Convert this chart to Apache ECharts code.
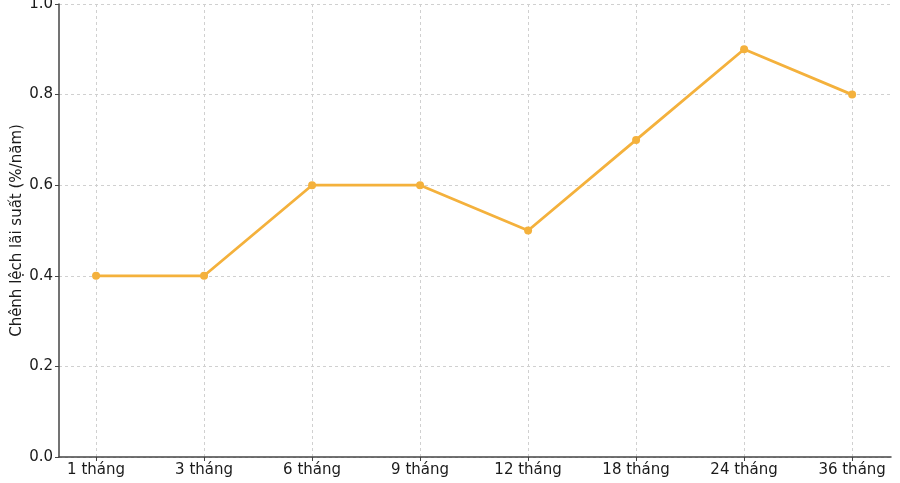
<!DOCTYPE html>
<html><head><meta charset="utf-8">
<script src="https://cdn.jsdelivr.net/npm/echarts@6/dist/echarts.min.js"></script>
<style>html,body{margin:0;padding:0;background:#fff}#c{width:900px;height:483px}</style>
</head><body><div id="c"></div>
<script>
const categories = ["1 tháng","3 tháng","6 tháng","9 tháng","12 tháng","18 tháng","24 tháng","36 tháng"];
const spreadValues = [0.4, 0.4, 0.6, 0.6, 0.5, 0.7, 0.9, 0.8];
const yTicks = [0, 0.2, 0.4, 0.6, 0.8, 1.0];
const yAxisName = "Chênh lệch lãi suất (%/năm)";

const chart = echarts.init(document.getElementById('c'), null, {renderer:'canvas'});
const font = "DejaVu Sans";
const idx = categories.map((_, i) => i);
chart.setOption({
  animation: false,
  grid: {left: 59, right: 9, top: 4, bottom: 26, containLabel: false, outerBoundsMode: 'none'},
  xAxis: {
    type: 'value', min: -0.343, max: 7.36,
    axisLine: {show: true, onZero: false, lineStyle: {color: '#444', width: 1.5}},
    axisTick: {show: true, customValues: idx, length: 4, lineStyle: {color: '#444'}},
    axisLabel: {customValues: idx, formatter: v => categories[Math.round(v)], color: '#1a1a1a', fontSize: 15, fontFamily: font, margin: 6},
    splitLine: {show: true, lineStyle: {color: '#d0d0d0', type: [3, 3], width: 1}}
  },
  yAxis: {
    type: 'value', min: 0, max: 1, interval: 0.2,
    name: yAxisName, nameLocation: 'middle', nameGap: 34, nameMoveOverlap: false,
    nameTextStyle: {color: '#1a1a1a', fontSize: 15, fontFamily: font},
    axisLine: {show: true, onZero: false, lineStyle: {color: '#444', width: 1.5}},
    axisTick: {show: true, length: 4, lineStyle: {color: '#444'}},
    axisLabel: {formatter: v => v.toFixed(1), color: '#1a1a1a', fontSize: 15, fontFamily: font, margin: 6},
    splitLine: {show: true, lineStyle: {color: '#d0d0d0', type: [3, 3], width: 1}}
  },
  series: [{
    type: 'line',
    data: spreadValues.map((v, i) => [i, v]),
    symbol: 'circle', symbolSize: 8,
    lineStyle: {color: '#F4B13C', width: 2.8},
    itemStyle: {color: '#F4B13C'}
  }]
});
</script></body></html>
